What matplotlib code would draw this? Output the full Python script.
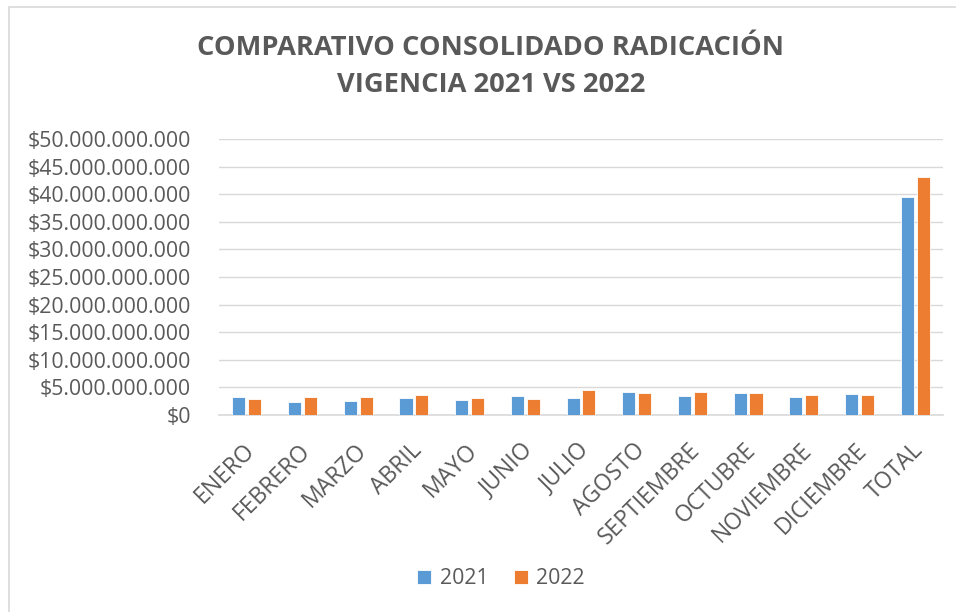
import matplotlib
matplotlib.use("Agg")
import matplotlib.pyplot as plt
import numpy as np
from matplotlib.patches import Rectangle
from matplotlib.ticker import FuncFormatter
from matplotlib.transforms import ScaledTranslation

months = ["ENERO", "FEBRERO", "MARZO", "ABRIL", "MAYO", "JUNIO", "JULIO",
          "AGOSTO", "SEPTIEMBRE", "OCTUBRE", "NOVIEMBRE", "DICIEMBRE", "TOTAL"]
v2021 = [3.35e9, 2.35e9, 2.50e9, 3.15e9, 2.75e9, 3.45e9, 3.00e9,
         4.25e9, 3.40e9, 4.05e9, 3.25e9, 3.75e9, 39.5e9]
v2022 = [2.85e9, 3.35e9, 3.25e9, 3.60e9, 3.00e9, 2.95e9, 4.60e9,
         4.05e9, 4.15e9, 4.05e9, 3.65e9, 3.55e9, 43.2e9]
yticks = np.arange(0, 50e9 + 1, 5e9)

title = "COMPARATIVO CONSOLIDADO RADICACIÓN\nVIGENCIA 2021 VS 2022"
C21 = "#5B9BD5"
C22 = "#ED7D31"
TXT = "#595959"

plt.rcParams['font.family'] = ['Open Sans', 'DejaVu Sans']

fig = plt.figure(figsize=(9.56, 6.12), dpi=100)
ax = fig.add_axes([219/956, (612-415)/612, (943-219)/956, (415-139)/612])

x = np.arange(len(months))
w = 0.235
off = 0.142
ax.bar(x - off, v2021, w, color=C21, edgecolor="white", linewidth=0.6, label="2021", zorder=3)
ax.bar(x + off, v2022, w, color=C22, edgecolor="white", linewidth=0.6, label="2022", zorder=3)

ax.set_xlim(-0.5, len(months) - 0.5)
ax.set_ylim(0, 50e9)
ax.set_yticks(yticks)

def fmt(v, pos):
    s = f"{int(round(v)):,}".replace(",", ".")
    return "$" + s
ax.yaxis.set_major_formatter(FuncFormatter(fmt))
ax.grid(axis="y", color="#D9D9D9", linewidth=1.0, zorder=0)
for s in ["top", "right", "left"]:
    ax.spines[s].set_visible(False)
ax.spines["bottom"].set_color("#D9D9D9")
ax.spines["bottom"].set_linewidth(1.2)
ax.tick_params(axis="y", length=0, pad=20, labelsize=15.3, labelcolor=TXT)
ax.tick_params(axis="x", length=0, pad=17, labelsize=16.5, labelcolor=TXT)
ax.set_xticks(x)
ax.set_xticklabels(months, rotation=45, ha="right", va="top", rotation_mode="anchor")
shift = ScaledTranslation(-4/100, 0, fig.dpi_scale_trans)
for lab in ax.get_xticklabels():
    lab.set_transform(lab.get_transform() + shift)

fig.text(491/956, 1 - 66.5/612, title, ha="center", va="center", fontsize=19.6,
         fontweight="bold", color=TXT, linespacing=1.54)

leg = fig.legend(loc="center", bbox_to_anchor=(501/956, 1 - 579/612), ncol=2,
                 frameon=False, fontsize=15.3, handlelength=0.65, handleheight=0.65,
                 handletextpad=0.4, columnspacing=1.2)
for t in leg.get_texts():
    t.set_color(TXT)

fig.patches.append(Rectangle((9/956, -0.1), 1.2, 1 - 7/612 + 0.1, transform=fig.transFigure,
                             fill=False, edgecolor="#D9D9D9", linewidth=1.2))

fig.savefig("out.png", dpi=100)
